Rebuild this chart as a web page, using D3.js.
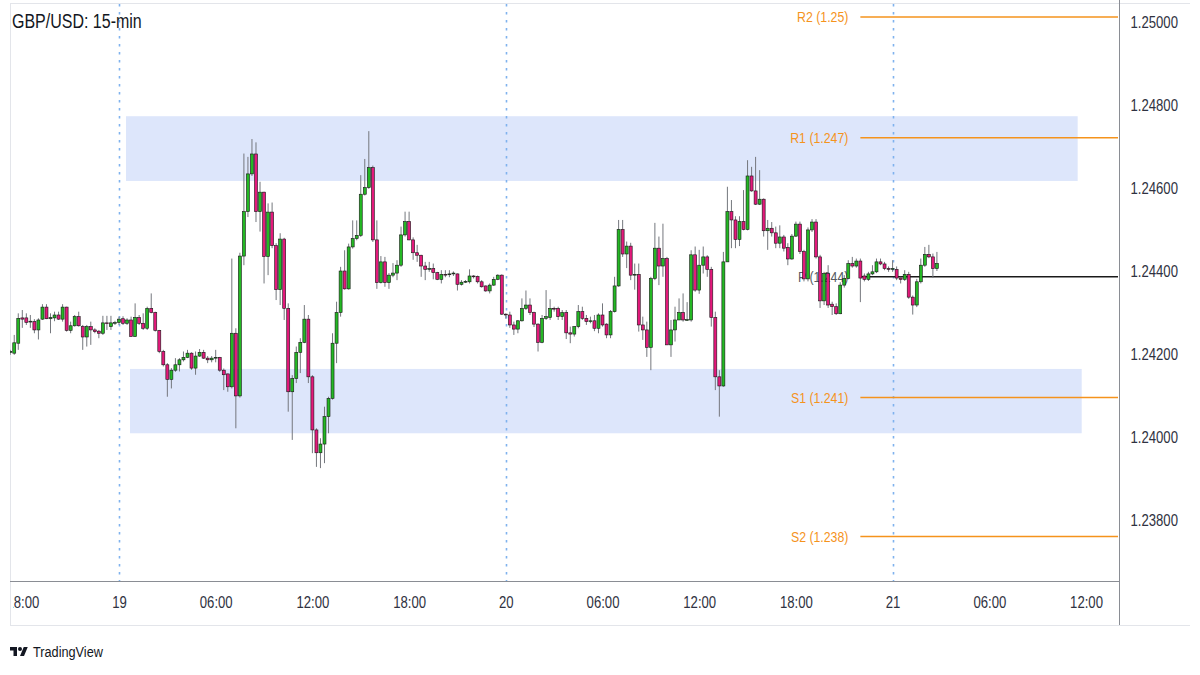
<!DOCTYPE html>
<html><head><meta charset="utf-8">
<script src="https://cdn.jsdelivr.net/npm/d3@7"></script>
<style>
html,body{margin:0;padding:0;background:#fff;}
svg{display:block;}
text{font-family:"Liberation Sans",Arial,sans-serif;}
</style></head><body>
<svg id="chart" width="1200" height="675"></svg>
<script>
const title = "GBP/USD: 15-min";
const barStart = "2023-09-18T17:15:00Z";
const barMinutes = 15;

const open = [
1.24204,1.24202,1.24226,1.24287,1.24287,1.24277,1.24278,1.24258,1.24284,1.24313,
1.24285,1.24287,1.24294,1.24284,1.24313,1.24257,1.24268,1.24290,1.24266,1.24241,
1.24266,1.24258,1.24255,1.24250,1.24275,1.24266,1.24274,1.24276,1.24285,1.24274,
1.24282,1.24242,1.24288,1.24274,1.24262,1.24310,1.24300,1.24257,1.24206,1.24174,
1.24139,1.24161,1.24174,1.24186,1.24192,1.24202,1.24166,1.24195,1.24204,1.24190,
1.24186,1.24190,1.24192,1.24161,1.24152,1.24121,1.24250,1.24099,1.24436,1.24543,
1.24634,1.24682,1.24543,1.24590,1.24435,1.24542,1.24461,1.24355,1.24477,1.24310,
1.24109,1.24141,1.24204,1.24228,1.24284,1.24145,1.24017,1.23962,1.23983,1.24049,
1.24093,1.24226,1.24300,1.24400,1.24357,1.24458,1.24478,1.24486,1.24585,1.24601,
1.24649,1.24475,1.24372,1.24422,1.24372,1.24390,1.24395,1.24414,1.24487,1.24519,
1.24475,1.24444,1.24438,1.24412,1.24405,1.24406,1.24396,1.24380,1.24392,1.24391,
1.24393,1.24393,1.24368,1.24373,1.24374,1.24388,1.24387,1.24374,1.24364,1.24352,
1.24366,1.24380,1.24390,1.24296,1.24294,1.24270,1.24260,1.24280,1.24310,1.24318,
1.24300,1.24272,1.24228,1.24286,1.24288,1.24310,1.24310,1.24290,1.24300,1.24251,
1.24248,1.24266,1.24302,1.24286,1.24278,1.24280,1.24262,1.24294,1.24272,1.24246,
1.24302,1.24364,1.24500,1.24441,1.24460,1.24390,1.24392,1.24270,1.24258,1.24216,
1.24382,1.24455,1.24412,1.24430,1.24222,1.24258,1.24282,1.24300,1.24282,1.24282,
1.24439,1.24354,1.24414,1.24434,1.24404,1.24288,1.24145,1.24123,1.24422,1.24543,
1.24523,1.24476,1.24519,1.24500,1.24629,1.24593,1.24561,1.24573,1.24497,1.24503,
1.24492,1.24467,1.24482,1.24457,1.24429,1.24484,1.24513,1.24447,1.24381,1.24499,
1.24518,1.24434,1.24328,1.24394,1.24320,1.24314,1.24297,1.24366,1.24382,1.24418,
1.24412,1.24424,1.24388,1.24380,1.24393,1.24398,1.24422,1.24417,1.24406,1.24404,
1.24404,1.24383,1.24380,1.24392,1.24337,1.24318,1.24374,1.24414,1.24440,1.24434,1.24406
];
const high = [
1.24210,1.24246,1.24298,1.24306,1.24298,1.24294,1.24284,1.24286,1.24320,1.24320,
1.24298,1.24302,1.24302,1.24320,1.24314,1.24278,1.24294,1.24302,1.24270,1.24270,
1.24278,1.24262,1.24258,1.24292,1.24292,1.24292,1.24280,1.24290,1.24291,1.24286,
1.24290,1.24322,1.24294,1.24298,1.24314,1.24346,1.24302,1.24258,1.24210,1.24178,
1.24166,1.24190,1.24190,1.24206,1.24210,1.24204,1.24206,1.24212,1.24210,1.24195,
1.24195,1.24210,1.24193,1.24165,1.24153,1.24430,1.24262,1.24444,1.24683,1.24675,
1.24718,1.24710,1.24615,1.24591,1.24563,1.24565,1.24467,1.24491,1.24480,1.24322,
1.24149,1.24218,1.24238,1.24318,1.24294,1.24149,1.24021,1.23997,1.24073,1.24097,
1.24250,1.24326,1.24410,1.24450,1.24466,1.24522,1.24522,1.24631,1.24670,1.24737,
1.24654,1.24522,1.24436,1.24434,1.24395,1.24419,1.24426,1.24507,1.24543,1.24543,
1.24481,1.24463,1.24439,1.24422,1.24422,1.24418,1.24398,1.24402,1.24402,1.24402,
1.24399,1.24394,1.24378,1.24378,1.24404,1.24390,1.24389,1.24378,1.24365,1.24370,
1.24386,1.24392,1.24392,1.24298,1.24302,1.24278,1.24282,1.24334,1.24353,1.24334,
1.24302,1.24274,1.24294,1.24354,1.24332,1.24314,1.24314,1.24306,1.24306,1.24266,
1.24267,1.24318,1.24314,1.24294,1.24290,1.24294,1.24298,1.24322,1.24274,1.24306,
1.24386,1.24523,1.24523,1.24471,1.24468,1.24418,1.24418,1.24290,1.24278,1.24386,
1.24516,1.24483,1.24514,1.24434,1.24282,1.24314,1.24334,1.24346,1.24325,1.24450,
1.24459,1.24451,1.24459,1.24438,1.24410,1.24302,1.24161,1.24446,1.24603,1.24571,
1.24532,1.24532,1.24595,1.24667,1.24651,1.24675,1.24643,1.24575,1.24523,1.24518,
1.24507,1.24510,1.24487,1.24467,1.24489,1.24519,1.24519,1.24451,1.24505,1.24525,
1.24525,1.24439,1.24398,1.24414,1.24326,1.24322,1.24373,1.24390,1.24426,1.24434,
1.24430,1.24430,1.24394,1.24398,1.24414,1.24430,1.24430,1.24422,1.24411,1.24426,
1.24411,1.24386,1.24402,1.24398,1.24341,1.24381,1.24430,1.24458,1.24463,1.24442,1.24446
];
const low = [
1.24198,1.24198,1.24210,1.24263,1.24270,1.24263,1.24250,1.24235,1.24282,1.24284,
1.24250,1.24279,1.24282,1.24278,1.24254,1.24250,1.24266,1.24266,1.24210,1.24218,
1.24222,1.24250,1.24238,1.24246,1.24258,1.24258,1.24270,1.24270,1.24270,1.24270,
1.24242,1.24242,1.24270,1.24258,1.24258,1.24298,1.24254,1.24202,1.24170,1.24097,
1.24117,1.24157,1.24158,1.24182,1.24190,1.24162,1.24150,1.24193,1.24188,1.24178,
1.24180,1.24180,1.24157,1.24113,1.24109,1.24117,1.24021,1.24095,1.24414,1.24530,
1.24629,1.24518,1.24495,1.24370,1.24390,1.24455,1.24330,1.24318,1.24282,1.24061,
1.23993,1.24130,1.24154,1.24226,1.24130,1.23961,1.23928,1.23925,1.23937,1.24009,
1.24090,1.24178,1.24290,1.24355,1.24355,1.24454,1.24474,1.24482,1.24582,1.24598,
1.24470,1.24357,1.24370,1.24362,1.24357,1.24385,1.24378,1.24410,1.24483,1.24474,
1.24427,1.24422,1.24386,1.24378,1.24398,1.24380,1.24378,1.24370,1.24385,1.24385,
1.24388,1.24353,1.24365,1.24371,1.24370,1.24382,1.24370,1.24360,1.24350,1.24346,
1.24364,1.24378,1.24294,1.24285,1.24263,1.24246,1.24250,1.24278,1.24306,1.24294,
1.24265,1.24206,1.24226,1.24282,1.24282,1.24302,1.24282,1.24282,1.24236,1.24226,
1.24242,1.24262,1.24282,1.24270,1.24274,1.24255,1.24250,1.24266,1.24238,1.24238,
1.24300,1.24362,1.24434,1.24407,1.24378,1.24355,1.24254,1.24234,1.24193,1.24161,
1.24378,1.24366,1.24386,1.24222,1.24193,1.24230,1.24282,1.24278,1.24280,1.24278,
1.24350,1.24345,1.24394,1.24386,1.24266,1.24113,1.24049,1.24121,1.24422,1.24455,
1.24455,1.24460,1.24498,1.24498,1.24591,1.24559,1.24559,1.24483,1.24451,1.24483,
1.24455,1.24455,1.24447,1.24414,1.24427,1.24482,1.24441,1.24375,1.24375,1.24494,
1.24430,1.24311,1.24318,1.24311,1.24294,1.24294,1.24296,1.24360,1.24380,1.24408,
1.24408,1.24325,1.24375,1.24376,1.24390,1.24395,1.24414,1.24402,1.24398,1.24398,
1.24378,1.24370,1.24376,1.24333,1.24295,1.24313,1.24370,1.24410,1.24431,1.24383,1.24400
];
const close = [
1.24206,1.24227,1.24286,1.24284,1.24276,1.24279,1.24258,1.24282,1.24313,1.24285,
1.24288,1.24294,1.24284,1.24313,1.24257,1.24268,1.24290,1.24268,1.24241,1.24266,
1.24258,1.24254,1.24250,1.24275,1.24274,1.24275,1.24276,1.24284,1.24274,1.24282,
1.24242,1.24288,1.24274,1.24262,1.24310,1.24300,1.24257,1.24206,1.24174,1.24139,
1.24161,1.24174,1.24186,1.24192,1.24202,1.24166,1.24195,1.24204,1.24190,1.24186,
1.24190,1.24192,1.24161,1.24150,1.24121,1.24250,1.24099,1.24436,1.24543,1.24634,
1.24682,1.24543,1.24590,1.24435,1.24542,1.24461,1.24355,1.24477,1.24310,1.24109,
1.24141,1.24204,1.24228,1.24284,1.24145,1.24017,1.23962,1.23983,1.24049,1.24093,
1.24226,1.24300,1.24400,1.24357,1.24458,1.24478,1.24486,1.24585,1.24601,1.24649,
1.24475,1.24372,1.24422,1.24372,1.24390,1.24395,1.24414,1.24487,1.24519,1.24475,
1.24444,1.24438,1.24412,1.24404,1.24406,1.24396,1.24380,1.24392,1.24391,1.24393,
1.24395,1.24368,1.24373,1.24375,1.24388,1.24387,1.24374,1.24362,1.24352,1.24366,
1.24380,1.24390,1.24296,1.24294,1.24270,1.24260,1.24280,1.24310,1.24318,1.24300,
1.24272,1.24228,1.24286,1.24290,1.24310,1.24309,1.24290,1.24300,1.24251,1.24248,
1.24266,1.24302,1.24286,1.24278,1.24280,1.24262,1.24294,1.24270,1.24246,1.24302,
1.24364,1.24500,1.24441,1.24460,1.24390,1.24392,1.24270,1.24258,1.24216,1.24382,
1.24455,1.24412,1.24430,1.24222,1.24258,1.24282,1.24300,1.24282,1.24283,1.24439,
1.24354,1.24414,1.24434,1.24404,1.24288,1.24145,1.24123,1.24422,1.24543,1.24523,
1.24476,1.24519,1.24500,1.24629,1.24593,1.24561,1.24573,1.24497,1.24503,1.24492,
1.24467,1.24482,1.24455,1.24429,1.24484,1.24513,1.24447,1.24381,1.24499,1.24518,
1.24434,1.24328,1.24394,1.24318,1.24314,1.24297,1.24366,1.24382,1.24418,1.24412,
1.24424,1.24383,1.24380,1.24393,1.24398,1.24422,1.24417,1.24406,1.24404,1.24406,
1.24383,1.24380,1.24392,1.24337,1.24318,1.24374,1.24414,1.24440,1.24434,1.24406,1.24418
];

const priceTicks = [1.238, 1.240, 1.242, 1.244, 1.246, 1.248, 1.250];
const timeTicks = ["2023-09-18T18:00:00Z","2023-09-19T00:00:00Z","2023-09-19T06:00:00Z","2023-09-19T12:00:00Z",
  "2023-09-19T18:00:00Z","2023-09-20T00:00:00Z","2023-09-20T06:00:00Z","2023-09-20T12:00:00Z",
  "2023-09-20T18:00:00Z","2023-09-21T00:00:00Z","2023-09-21T06:00:00Z","2023-09-21T12:00:00Z"];
const timeTickLabels = ["18:00","19","06:00","12:00","18:00","20","06:00","12:00","18:00","21","06:00","12:00"];
const daySeparators = ["2023-09-19T00:00:00Z","2023-09-20T00:00:00Z","2023-09-21T00:00:00Z"];

const pivotValues = [1.25012, 1.24721, 1.24386, 1.24095, 1.23760];
const pivotLabels = ["R2 (1.25)","R1 (1.247)","P (1.244)","S1 (1.241)","S2 (1.238)"];
const pivotStart = "2023-09-20T22:00:00Z";

const zoneTop = [1.24773, 1.24164];
const zoneBottom = [1.24617, 1.24009];
const zoneStart = ["2023-09-19T00:26:00Z","2023-09-19T00:41:00Z"];
const zoneEnd = ["2023-09-21T11:29:00Z","2023-09-21T11:44:00Z"];

// ---------- layout ----------
const W = 1200, H = 675;
const L = 10, R = 1118, T = 4, B = 581;
const UP = "#24b824", DOWN = "#e3197b", ORANGE = "#f5931c";
const FONT_TXT = "#2f3241";
const NARROW = 0.82;

const svg = d3.select("#chart");
const t0 = new Date(barStart).getTime();
const bars = open.map((o, i) => ({
  t: new Date(t0 + i * barMinutes * 60000), o, h: high[i], l: low[i], c: close[i]
}));

const x = d3.scaleUtc()
  .domain([new Date("2023-09-19T00:00:00Z"), new Date("2023-09-21T12:00:00Z")])
  .range([119, 1086]);
const y = d3.scaleLinear().domain([1.23653, 1.250434]).range([B, T]);

const defs = svg.append("defs");
defs.append("clipPath").attr("id", "plotClip").append("rect")
  .attr("x", L).attr("y", T).attr("width", R - L).attr("height", B - T);
defs.append("clipPath").attr("id", "timeClip").append("rect")
  .attr("x", L + 3).attr("y", B).attr("width", R - L - 3).attr("height", 45);

// frame
svg.append("rect").attr("x", 0).attr("y", 0).attr("width", W).attr("height", H).attr("fill", "#fff");
const frame = svg.append("g").attr("stroke", "#e3e5ea").attr("fill", "none");
frame.append("line").attr("x1", L).attr("x2", 1190).attr("y1", T - 0.5).attr("y2", T - 0.5);
frame.append("line").attr("x1", L + 0.5).attr("x2", L + 0.5).attr("y1", T - 0.5).attr("y2", 625);
frame.append("line").attr("x1", L).attr("x2", 1190).attr("y1", 625.5).attr("y2", 625.5);

const plot = svg.append("g").attr("clip-path", "url(#plotClip)");

// zones
plot.append("g").selectAll("rect").data(zoneTop).join("rect")
  .attr("x", (d, i) => x(new Date(zoneStart[i])))
  .attr("width", (d, i) => x(new Date(zoneEnd[i])) - x(new Date(zoneStart[i])))
  .attr("y", d => y(d))
  .attr("height", (d, i) => y(zoneBottom[i]) - y(d))
  .attr("fill", "#dde6fb");

// day separators
plot.append("g").selectAll("line").data(daySeparators).join("line")
  .attr("x1", d => Math.round(x(new Date(d))) + 0.5).attr("x2", d => Math.round(x(new Date(d))) + 0.5)
  .attr("y1", T).attr("y2", B)
  .attr("stroke", "#7fb2ee").attr("stroke-width", 1.6).attr("stroke-dasharray", "2.5,5.5");

// pivot lines
const px0 = x(new Date(pivotStart));
const pv = plot.append("g");
pv.selectAll("line").data(pivotValues).join("line")
  .attr("x1", px0).attr("x2", R)
  .attr("y1", d => y(d)).attr("y2", d => y(d))
  .attr("stroke", (d, i) => i === 2 ? "#1a1a1a" : ORANGE)
  .attr("stroke-width", 1.5);
pv.selectAll("text").data(pivotValues).join("text")
  .attr("x", px0 - 12).attr("y", d => y(d))
  .attr("dy", "0.36em").attr("text-anchor", "end")
  .attr("font-size", 15)
  .attr("fill", (d, i) => i === 2 ? "#555a63" : ORANGE)
  .text((d, i) => pivotLabels[i]);

// candles
const step = x(new Date(t0 + barMinutes * 60000)) - x(new Date(t0));
const bw = step * 0.74;
const cg = plot.append("g");
cg.selectAll("line").data(bars).join("line")
  .attr("x1", d => x(d.t)).attr("x2", d => x(d.t))
  .attr("y1", d => y(d.h)).attr("y2", d => y(d.l))
  .attr("stroke", "#74777d").attr("stroke-width", 1);
cg.selectAll("rect").data(bars).join("rect")
  .attr("x", d => x(d.t) - bw / 2).attr("width", bw)
  .attr("y", d => y(Math.max(d.o, d.c)))
  .attr("height", d => Math.max(0.8, Math.abs(y(d.o) - y(d.c))))
  .attr("fill", d => d.c >= d.o ? UP : DOWN)
  .attr("stroke", "#161616").attr("stroke-width", 0.6);

// title
svg.append("text").attr("x", 12).attr("y", 28).attr("font-size", 19.5)
  .attr("fill", "#131722").text(title);

// x axis
const xAxis = d3.axisBottom(x)
  .tickValues(timeTicks.map(d => new Date(d)))
  .tickFormat((d, i) => timeTickLabels[i])
  .tickSize(0).tickPadding(16);
const xWrap = svg.append("g").attr("clip-path", "url(#timeClip)");
const xg = xWrap.append("g").attr("transform", `translate(0,${B})`).call(xAxis);
xg.select(".domain").remove();
xg.selectAll("text").attr("font-size", 16).attr("fill", FONT_TXT);
xg.attr("font-family", null);
svg.append("line").attr("x1", L).attr("x2", R + 1).attr("y1", B + 0.5).attr("y2", B + 0.5)
  .attr("stroke", "#8a8d94").attr("stroke-width", 1);

// y axis
const yAxis = d3.axisRight(y).tickValues(priceTicks).tickFormat(d3.format(".5f"))
  .tickSize(0).tickPadding(12);
const yg = svg.append("g").attr("transform", `translate(${R + 0.5},0)`).call(yAxis);
yg.select(".domain").remove();
yg.selectAll("text").attr("font-size", 16).attr("fill", FONT_TXT);
yg.attr("font-family", null);
svg.append("line").attr("x1", R + 1.5).attr("x2", R + 1.5).attr("y1", 0).attr("y2", 625)
  .attr("stroke", "#8a8d94").attr("stroke-width", 1);

// TradingView logo
const logo = svg.append("g").attr("transform", "translate(10,645) scale(0.5)").attr("fill", "#131722");
logo.append("path").attr("d", "M14 22H7V11H0V4h14v18zM28 22h-8l7.5-18h8L28 22z");
logo.append("circle").attr("cx", 20).attr("cy", 8).attr("r", 4);
svg.append("text").attr("x", 33).attr("y", 657).attr("font-size", 15.5)
  .attr("fill", "#131722").text("TradingView");

// narrow the text (the reference uses a condensed face)
svg.selectAll("text").each(function () {
  const len = this.getComputedTextLength();
  if (len > 0) {
    this.setAttribute("textLength", (len * NARROW).toFixed(2));
    this.setAttribute("lengthAdjust", "spacingAndGlyphs");
  }
});
</script>
</body></html>
